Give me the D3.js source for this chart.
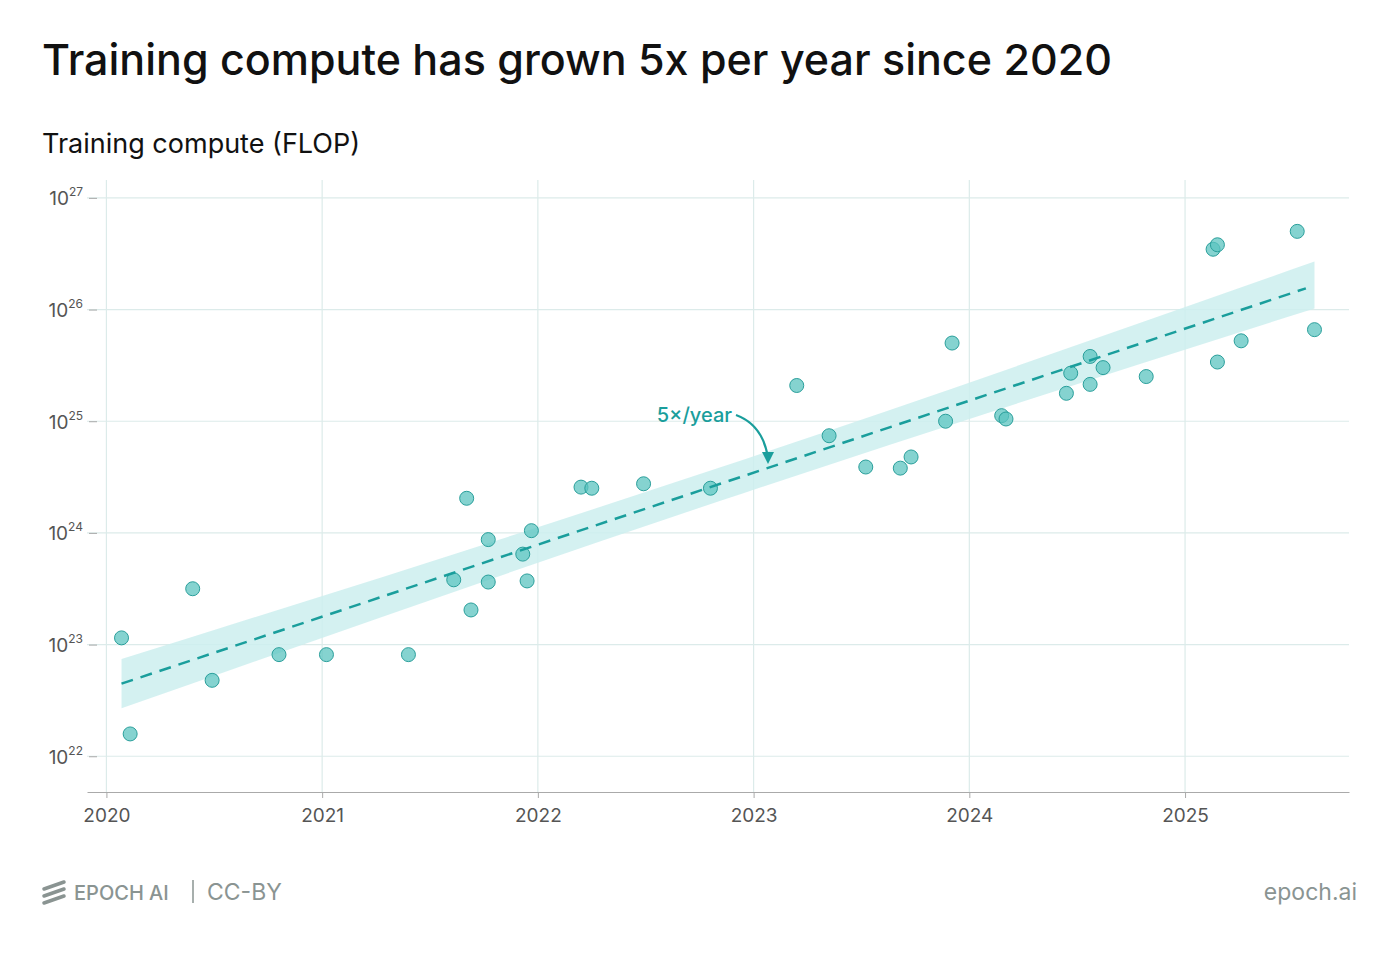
<!DOCTYPE html>
<html><head><meta charset="utf-8">
<script src="https://cdn.jsdelivr.net/npm/d3@7"></script>
<style>body{margin:0;background:#fff;font-family:Inter,"Noto Sans",sans-serif}</style>
</head><body><svg id="chart" width="1400" height="954"></svg>
<script>
// model release dates (decimal year) and log10 training compute
const years = [2020.07,2020.11,2020.40,2020.49,2020.80,2021.02,2021.40,2021.61,2021.67,2021.69,2021.77,2021.77,2021.93,2021.95,2021.97,2022.20,2022.25,2022.49,2022.80,2023.20,2023.35,2023.52,2023.68,2023.73,2023.89,2023.92,2024.15,2024.17,2024.45,2024.47,2024.56,2024.56,2024.62,2024.82,2025.13,2025.15,2025.15,2025.26,2025.52,2025.60];
const logCompute = [23.06,22.20,23.50,22.68,22.91,22.91,22.91,23.58,24.31,23.31,23.94,23.56,23.81,23.57,24.02,24.41,24.40,24.44,24.40,25.32,24.87,24.59,24.58,24.68,25.00,25.70,25.05,25.02,25.25,25.43,25.58,25.33,25.48,25.40,26.54,26.58,25.53,25.72,26.70,25.82];
// trend line and CI band half-width (log10)
const trendYears = [2020.07, 2022.85, 2025.60];
const trendLog = [22.65, 24.44, 26.22];
const bandHalf = [0.22, 0.15, 0.21];
const xTicks = [2020,2021,2022,2023,2024,2025];
const yTicks = [22,23,24,25,26,27];

const teal = "#1a9e9c";
const svg = d3.select("#chart");
const x = d3.scaleLinear().domain([2019.91, 2025.76]).range([87, 1349]);
const y = d3.scaleLinear().domain([21.68, 27.16]).range([792, 180]);

svg.append("text").attr("x",42).attr("y",75).attr("font-size",43).attr("font-weight",500)
  .attr("fill","#111").text("Training compute has grown 5x per year since 2020");
svg.append("text").attr("x",42).attr("y",153).attr("font-size",27).attr("fill","#111")
  .text("Training compute (FLOP)");

// grid
svg.append("g").selectAll("line").data(xTicks).join("line")
  .attr("x1",d=>x(d)).attr("x2",d=>x(d)).attr("y1",180).attr("y2",792)
  .attr("stroke","#dcebea").attr("stroke-width",1.2);
svg.append("g").selectAll("line").data(yTicks).join("line")
  .attr("x1",87).attr("x2",1349).attr("y1",d=>y(d)).attr("y2",d=>y(d))
  .attr("stroke","#dcebea").attr("stroke-width",1.2);

// axes
const xAxis = svg.append("g").attr("transform","translate(0,792)")
  .call(d3.axisBottom(x).tickValues(xTicks).tickFormat(d3.format("d")).tickSize(6).tickSizeOuter(0));
xAxis.select(".domain").attr("stroke","#aaa");
xAxis.selectAll(".tick line").attr("stroke","#aaa");
xAxis.selectAll("text").attr("font-size",19).attr("fill","#555").attr("dy","1.1em").attr("font-family","Inter,sans-serif");

const yAxis = svg.append("g").attr("transform","translate(97,0)")
  .call(d3.axisLeft(y).tickValues(yTicks).tickSize(8).tickFormat(""));
yAxis.select(".domain").remove();
yAxis.selectAll(".tick line").attr("stroke","#aaa");
yAxis.selectAll(".tick").append("text").attr("x",-14).attr("y",7).attr("text-anchor","end")
  .attr("fill","#555").attr("font-size",19).attr("font-family","Inter,sans-serif")
  .each(function(d){
    const t=d3.select(this);
    t.append("tspan").text("10");
    t.append("tspan").attr("dy",-9).attr("font-size",12).text(d);
  });

// band
const bandData = trendYears.map((t,i)=>({t, lo:trendLog[i]-bandHalf[i], hi:trendLog[i]+bandHalf[i]}));
svg.append("path").datum(bandData)
  .attr("d", d3.area().x(d=>x(d.t)).y0(d=>y(d.lo)).y1(d=>y(d.hi)).curve(d3.curveMonotoneX))
  .attr("fill","#cdeeee").attr("opacity",0.85);

// dots
svg.append("g").selectAll("circle").data(years).join("circle")
  .attr("cx",d=>x(d)).attr("cy",(d,i)=>y(logCompute[i])).attr("r",7)
  .attr("fill","#5cc4c0").attr("fill-opacity",0.75).attr("stroke","#2a9f9b").attr("stroke-width",1);

// trend
svg.append("line").attr("x1",x(trendYears[0])).attr("y1",y(trendLog[0]))
  .attr("x2",x(trendYears[2]-0.04)).attr("y2",y(trendLog[2]-0.03))
  .attr("stroke",teal).attr("stroke-width",2.5).attr("stroke-dasharray","12,8");

// annotation
svg.append("text").attr("x",732).attr("y",422).attr("text-anchor","end")
  .attr("font-size",20).attr("font-weight",500).attr("fill",teal).text("5×/year");
svg.append("path").attr("d","M736,415 Q763,425 768,458").attr("fill","none")
  .attr("stroke",teal).attr("stroke-width",2.2);
svg.append("path").attr("d","M762,452 L768,464 L774,452 Z").attr("fill",teal);

// footer
const g = svg.append("g").attr("fill","#8a9492");
[0,7,14].forEach(o=>g.append("line").attr("x1",44).attr("y1",889+o).attr("x2",64).attr("y2",882+o)
  .attr("stroke","#8a9492").attr("stroke-width",3.5).attr("stroke-linecap","round"));
g.append("text").attr("x",74).attr("y",900).attr("font-size",20).attr("font-weight",500).text("EPOCH AI");
svg.append("line").attr("x1",193).attr("x2",193).attr("y1",880).attr("y2",903).attr("stroke","#8a9492").attr("stroke-width",1.5);
g.append("text").attr("x",207).attr("y",900).attr("font-size",23).text("CC-BY");
g.append("text").attr("x",1357).attr("y",900).attr("text-anchor","end").attr("font-size",23).text("epoch.ai");
</script></body></html>
